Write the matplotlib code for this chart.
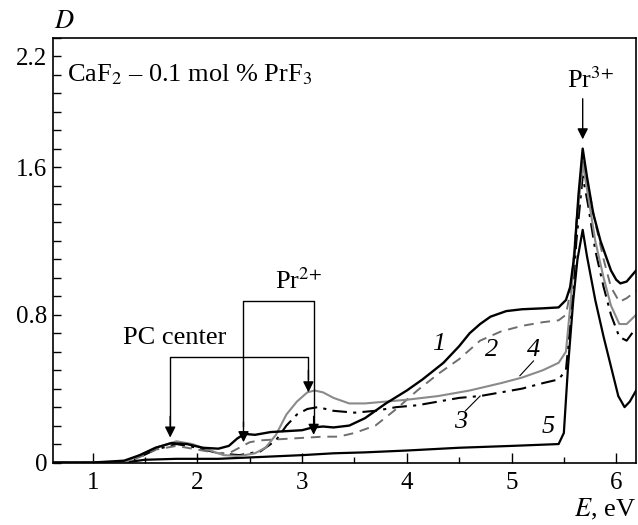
import matplotlib
matplotlib.use("Agg")
import matplotlib.pyplot as plt
from matplotlib.ticker import FixedLocator, MultipleLocator

plt.rcParams["font.family"] = ["Liberation Serif", "DejaVu Serif"]
plt.rcParams["mathtext.fontset"] = "stix"
plt.rcParams["font.size"] = 18

# curve 1: black solid
e1 = [0.62, 1.0, 1.3, 1.45, 1.6, 1.75, 1.9, 2.05, 2.2, 2.3, 2.38, 2.45, 2.55, 2.7,
      2.85, 3.0, 3.1, 3.2, 3.3, 3.45, 3.6, 3.8, 4.0, 4.15, 4.35, 4.5, 4.6, 4.7, 4.8,
      4.95, 5.1, 5.3, 5.45, 5.52, 5.56, 5.6, 5.64, 5.68, 5.72, 5.78, 5.85, 5.9, 5.95,
      6.0, 6.04, 6.1, 6.19]
d1 = [0.0, 0.0, 0.01, 0.04, 0.08, 0.105, 0.10, 0.08, 0.075, 0.09, 0.13, 0.155, 0.15,
      0.165, 0.17, 0.175, 0.19, 0.195, 0.19, 0.20, 0.24, 0.32, 0.39, 0.45, 0.54, 0.63,
      0.70, 0.75, 0.79, 0.82, 0.83, 0.835, 0.84, 0.88, 0.95, 1.12, 1.45, 1.70, 1.55,
      1.35, 1.20, 1.12, 1.04, 0.99, 0.97, 0.98, 1.04]

# curve 2: gray dashed
e2 = [0.62, 1.3, 1.45, 1.6, 1.8, 2.0, 2.2, 2.3, 2.4, 2.5, 2.6, 2.75, 2.9, 3.05, 3.2,
      3.35, 3.5, 3.7, 3.9, 4.1, 4.3, 4.5, 4.7, 4.9, 5.1, 5.3, 5.45, 5.52, 5.57, 5.62,
      5.68, 5.73, 5.8, 5.88, 5.95, 6.03, 6.1, 6.19]
d2 = [0.0, 0.0, 0.03, 0.07, 0.09, 0.07, 0.05, 0.05, 0.08, 0.11, 0.12, 0.125, 0.13,
      0.135, 0.14, 0.14, 0.16, 0.20, 0.29, 0.39, 0.48, 0.56, 0.66, 0.71, 0.74, 0.76,
      0.77, 0.80, 0.95, 1.30, 1.63, 1.50, 1.30, 1.10, 0.95, 0.87, 0.89, 0.93]

# curve 3: black dash-dot
e3 = [0.62, 1.3, 1.45, 1.6, 1.8, 2.0, 2.2, 2.4, 2.6, 2.75, 2.85, 2.95, 3.05, 3.15,
      3.3, 3.5, 3.7, 3.9, 4.1, 4.3, 4.5, 4.7, 4.9, 5.1, 5.3, 5.45, 5.52, 5.57, 5.62,
      5.68, 5.73, 5.8, 5.88, 5.95, 6.03, 6.1, 6.19]
d3 = [0.0, 0.0, 0.03, 0.07, 0.10, 0.08, 0.05, 0.04, 0.06, 0.12, 0.20, 0.26, 0.29,
      0.30, 0.28, 0.27, 0.28, 0.30, 0.31, 0.33, 0.35, 0.36, 0.38, 0.40, 0.43, 0.45,
      0.50, 0.80, 1.20, 1.55, 1.40, 1.15, 0.95, 0.80, 0.68, 0.66, 0.73]

# curve 4: gray solid
e4 = [0.62, 1.3, 1.45, 1.6, 1.8, 1.95, 2.1, 2.25, 2.4, 2.55, 2.65, 2.75, 2.85, 2.95,
      3.05, 3.12, 3.2, 3.3, 3.45, 3.6, 3.8, 4.0, 4.3, 4.6, 4.9, 5.1, 5.3, 5.45, 5.52,
      5.57, 5.62, 5.68, 5.73, 5.8, 5.88, 5.95, 6.03, 6.1, 6.19]
d4 = [0.0, 0.0, 0.04, 0.08, 0.115, 0.10, 0.07, 0.04, 0.035, 0.05, 0.08, 0.15, 0.26,
      0.33, 0.38, 0.39, 0.38, 0.35, 0.32, 0.32, 0.33, 0.34, 0.36, 0.39, 0.43, 0.46,
      0.50, 0.54, 0.60, 0.90, 1.30, 1.62, 1.45, 1.20, 1.00, 0.85, 0.75, 0.75, 0.80]

# curve 5: black solid baseline
e5 = [0.62, 1.3, 1.5, 1.8, 2.2, 2.6, 3.0, 3.3, 3.6, 4.0, 4.5, 5.0, 5.45, 5.5, 5.54,
      5.59, 5.63, 5.68, 5.72, 5.8, 5.88, 5.95, 6.02, 6.08, 6.13, 6.19]
d5 = [0.0, 0.0, 0.015, 0.02, 0.02, 0.03, 0.04, 0.05, 0.055, 0.065, 0.08, 0.09, 0.10,
      0.16, 0.52, 0.88, 1.10, 1.26, 1.12, 0.88, 0.68, 0.52, 0.36, 0.30, 0.33, 0.39]

# curve number labels: (text, E, D)
curve_labels = [("1", 4.30, 0.64), ("2", 4.81, 0.61), ("4", 5.21, 0.61),
                ("3", 4.51, 0.22), ("5", 5.35, 0.19)]

fig = plt.figure(figsize=(6.38, 5.25), dpi=100)
ax = fig.add_axes([0.083, 0.119, 0.914, 0.809])

gray = "#8a8a8a"
ax.plot(e5, d5, color="black", lw=1.6)
ax.plot(e3, d3, color="black", lw=1.5, ls=(0, (7, 3, 1.5, 3)))
ax.plot(e2, d2, color="#6e6e6e", lw=1.4, ls=(0, (5, 3.5)))
ax.plot(e4, d4, color=gray, lw=1.5)
ax.plot(e1, d1, color="black", lw=1.7)

for t, x, y in curve_labels:
    ax.text(x, y, t, style="italic", fontsize=19, ha="center", va="center")
# leader lines for 4 and 3
ax.plot([5.21, 5.08], [0.55, 0.47], color="black", lw=0.8)
ax.plot([4.56, 4.70], [0.28, 0.36], color="black", lw=0.8)

arrow = dict(arrowstyle="-|>", color="black", lw=1.0, mutation_scale=16,
             shrinkA=0, shrinkB=0)

# PC center bracket
pc_left, pc_right, pc_top = 1.74, 3.06, 0.57
ax.plot([pc_left, pc_left, pc_right, pc_right], [0.2, pc_top, pc_top, 0.45],
        color="black", lw=1.0)
ax.annotate("", xy=(pc_left, 0.135), xytext=(pc_left, 0.25), arrowprops=arrow)
ax.annotate("", xy=(pc_right, 0.38), xytext=(pc_right, 0.5), arrowprops=arrow)
ax.text(1.78, 0.675, "PC center", ha="center", va="center", fontsize=19)

# Pr2+ bracket
pr_left, pr_right, pr_top = 2.44, 3.11, 0.875
ax.plot([pr_left, pr_left, pr_right, pr_right], [0.2, pr_top, pr_top, 0.2],
        color="black", lw=1.0)
ax.annotate("", xy=(pr_left, 0.11), xytext=(pr_left, 0.22), arrowprops=arrow)
ax.annotate("", xy=(pr_right, 0.15), xytext=(pr_right, 0.25), arrowprops=arrow)
ax.text(2.96, 0.985, r"Pr$^{2{+}}$", ha="center", va="center", fontsize=19)

# Pr3+ arrow
ax.annotate("", xy=(5.68, 1.75), xytext=(5.68, 1.97), arrowprops=arrow)
ax.text(5.75, 2.07, r"Pr$^{3{+}}$", ha="center", va="center", fontsize=19)

ax.text(0.75, 2.10, r"CaF$_2$ – 0.1 mol % PrF$_3$", ha="left", va="center",
        fontsize=19)

ax.set_xlim(0.62, 6.19)
ax.set_ylim(0, 2.3)
ax.xaxis.set_major_locator(FixedLocator([1, 2, 3, 4, 5, 6]))
ax.xaxis.set_minor_locator(MultipleLocator(0.5))
ax.yaxis.set_major_locator(FixedLocator([0, 0.8, 1.6, 2.2]))
ax.yaxis.set_minor_locator(MultipleLocator(0.1))
ax.set_yticklabels(["0", "0.8", "1.6", "2.2"])
ax.tick_params(axis="both", which="both", direction="in", width=1.0,
               labelsize=18, top=False, right=False)
ax.tick_params(axis="x", which="major", length=7, pad=7)
ax.tick_params(axis="x", which="minor", length=4)
ax.tick_params(axis="y", which="both", length=6, pad=4)
for s in ax.spines.values():
    s.set_linewidth(1.2)

fig.text(0.085, 0.958, r"$D$", fontsize=19, ha="left", va="center")
fig.text(0.997, 0.03, r"$E$, eV", fontsize=19, ha="right", va="center")

fig.savefig("out.png", dpi=100)
